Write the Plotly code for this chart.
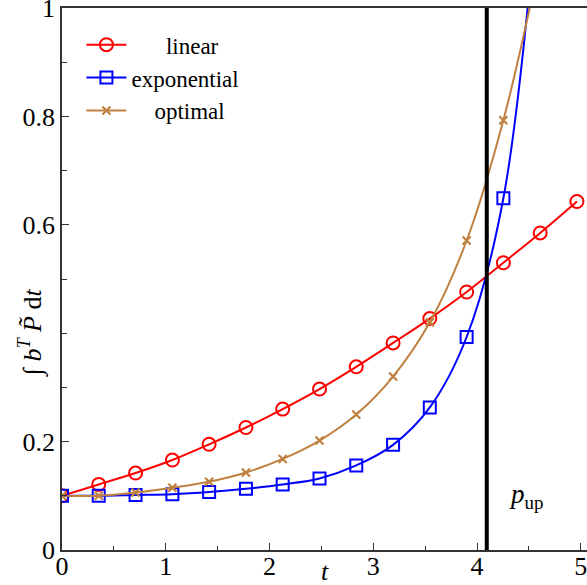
import plotly.graph_objects as go

t_markers = [0.0, 0.354, 0.709, 1.064, 1.418, 1.773, 2.127, 2.482, 2.836, 3.191, 3.545, 3.9, 4.254, 4.609, 4.963]
linear = [0.1, 0.121, 0.142, 0.166, 0.195, 0.226, 0.26, 0.297, 0.338, 0.382, 0.427, 0.476, 0.530, 0.585, 0.643]
exponential = [0.1, 0.1, 0.1015, 0.103, 0.107, 0.113, 0.121, 0.132, 0.156, 0.194, 0.263, 0.393, 0.649, 1.25]
optimal = [0.1, 0.1, 0.106, 0.115, 0.126, 0.143, 0.168, 0.202, 0.25, 0.32, 0.42, 0.571, 0.793, 1.09]
x_ticks = [0, 1, 2, 3, 4, 5]
x_ticktext = ["0", "1", "2", "3", "4", "5"]
y_ticks = [0, 0.2, 0.6, 0.8, 1]
y_ticktext = ["0", "0.2", "0.6", "0.8", "1"]
p_up = 4.094
p_up_label_pos = (4.47, 0.1)

FONT = "Liberation Serif"
RED = "#ff0000"
BLUE = "#0000ff"
ORANGE = "#bf8040"
AX = "#333333"
NB = "\u00a0"

fig = go.Figure()
fig.add_trace(go.Scatter(
    x=t_markers, y=linear, mode="lines+markers", name=NB * 6 + "linear",
    line=dict(color=RED, width=2, shape="spline"),
    marker=dict(symbol="circle-open", size=13, color=RED, line=dict(width=2, color=RED)),
))
fig.add_trace(go.Scatter(
    x=t_markers[:len(exponential)], y=exponential, mode="lines+markers", name="exponential",
    line=dict(color=BLUE, width=2, shape="spline"),
    marker=dict(symbol="square-open", size=12, color=BLUE, line=dict(width=2, color=BLUE)),
))
fig.add_trace(go.Scatter(
    x=t_markers[:len(optimal)], y=optimal, mode="lines+markers", name=NB * 4 + "optimal",
    line=dict(color=ORANGE, width=2, shape="spline"),
    marker=dict(symbol="x-thin", size=8, color=ORANGE, line=dict(width=2.2, color=ORANGE)),
))

fig.add_shape(type="line", x0=p_up, x1=p_up, y0=0, y1=1, xref="x", yref="y",
              line=dict(color="black", width=4))

fig.add_annotation(x=p_up_label_pos[0], y=p_up_label_pos[1], xref="x", yref="y",
                   text="<i>p</i><sub>up</sub>", showarrow=False,
                   font=dict(family=FONT, size=27, color="black"))

fig.add_annotation(x=-0.059, y=0.4, xref="paper", yref="y",
                   text="∫ <i>b</i><sup><i>T</i></sup> <i>P\u0303</i> d<i>t</i>",
                   textangle=-90, showarrow=False, xanchor="center", yanchor="middle",
                   font=dict(family=FONT, size=26, color="black"))
fig.add_annotation(x=0.5, y=-0.04, xref="paper", yref="paper",
                   text="<i>t</i>", showarrow=False, xanchor="center", yanchor="middle",
                   font=dict(family=FONT, size=26, color="black"))

fig.update_layout(
    width=587, height=585,
    margin=dict(l=62, r=0, t=8, b=35, autoexpand=False),
    plot_bgcolor="white", paper_bgcolor="white",
    font=dict(family=FONT, size=26, color="black"),
    showlegend=True,
    legend=dict(x=0.037, y=0.972, xanchor="left", yanchor="top",
                bgcolor="rgba(0,0,0,0)", font=dict(family=FONT, size=23),
                itemwidth=40, tracegroupgap=0),
    xaxis=dict(range=[0, 5.06], showgrid=False, zeroline=False, automargin=False,
               showline=True, linecolor=AX, linewidth=1.5, mirror=True,
               ticks="inside", ticklen=7, tickcolor=AX,
               tickvals=x_ticks, ticktext=x_ticktext, ticklabeloverflow="allow",
               ticklabelstandoff=-8,
               minor=dict(dtick=0.5, ticks="inside", ticklen=4, tickcolor=AX),
               tickfont=dict(family=FONT, size=26)),
    yaxis=dict(range=[0, 1], showgrid=False, zeroline=False, automargin=False,
               showline=True, linecolor=AX, linewidth=1.5,
               ticks="inside", ticklen=7, tickcolor=AX,
               tickvals=y_ticks, ticktext=y_ticktext, ticklabeloverflow="allow",
               minor=dict(dtick=0.1, ticks="inside", ticklen=5, tickcolor=AX),
               tickfont=dict(family=FONT, size=26)),
)

fig.write_html("out.html", config={"displayModeBar": False},
               post_script="document.body.style.margin='0';document.body.style.overflow='hidden';")
